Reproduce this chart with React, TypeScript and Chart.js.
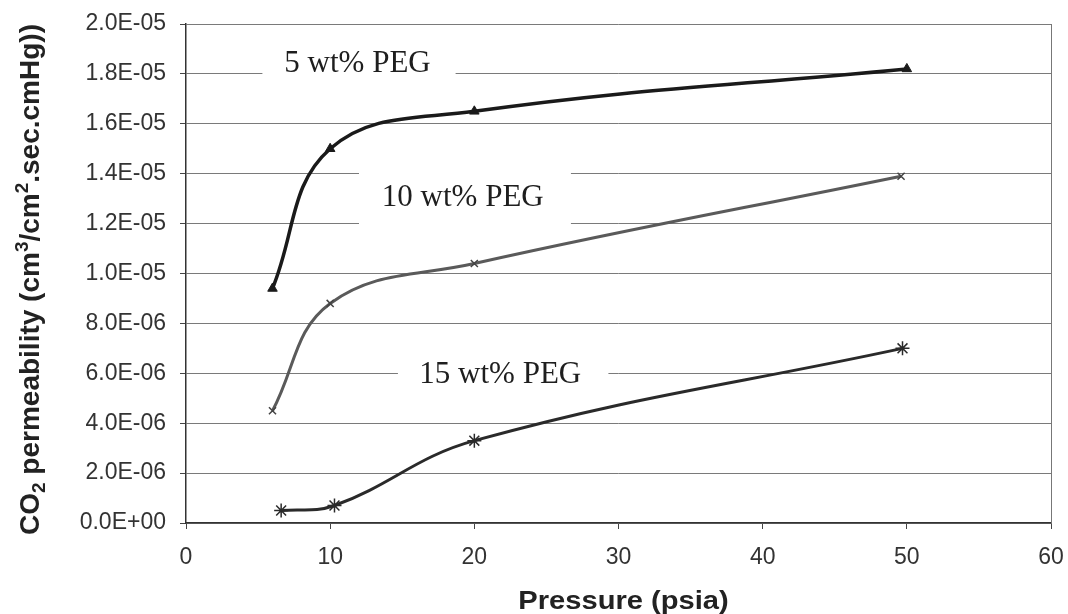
import React, { useEffect, useRef } from "react";
import { Chart, registerables } from "chart.js";

Chart.register(...registerables);

// ---- data ----
const peg5X = [6, 10, 20, 50];
const peg5Y = [9.4e-6, 1.5e-5, 1.65e-5, 1.82e-5];
const peg10X = [6, 10, 20, 49.6];
const peg10Y = [4.5e-6, 8.8e-6, 1.04e-5, 1.39e-5];
const peg15X = [6.6, 10.3, 20, 49.7];
const peg15Y = [5.0e-7, 7.0e-7, 3.3e-6, 7.0e-6];

const seriesNames = ["5 wt% PEG", "10 wt% PEG", "15 wt% PEG"];
const xTickValues = [0, 10, 20, 30, 40, 50, 60];
const yTickLabels = [
  "0.0E+00", "2.0E-06", "4.0E-06", "6.0E-06", "8.0E-06", "1.0E-05",
  "1.2E-05", "1.4E-05", "1.6E-05", "1.8E-05", "2.0E-05",
];
const xTitle = "Pressure (psia)";
const yTitleParts: [string, string][] = [
  ["CO", ""], ["2", "sub"], [" permeability (cm", ""], ["3", "sup"],
  ["/cm", ""], ["2", "sup"], [".sec.cmHg))", ""],
];

// in-plot labels: text centre (data units) and white box extent (data units)
const labelCenterX = [11.9, 19.2, 21.8];
const labelCenterY = [1.84e-5, 1.305e-5, 5.94e-6];
const labelBoxX = [[5.3, 18.7], [12.0, 26.7], [14.7, 29.3]];
const labelBoxY = [[1.77e-5, 1.9e-5], [1.17e-5, 1.44e-5], [5.45e-6, 6.5e-6]];

const SANS = "'Liberation Sans', Arial, sans-serif";
const SERIF = "'Liberation Serif', 'Times New Roman', serif";

const toPts = (xs: number[], ys: number[]) => xs.map((x, i) => ({ x, y: ys[i] }));

const annotationPlugin = {
  id: "pegLabels",
  beforeDatasetsDraw(chart: any) {
    const { ctx, scales } = chart;
    const xs = scales.x, ys = scales.y;
    ctx.save();
    seriesNames.forEach((name, i) => {
      const x1 = xs.getPixelForValue(labelBoxX[i][0]);
      const x2 = xs.getPixelForValue(labelBoxX[i][1]);
      const y1 = ys.getPixelForValue(labelBoxY[i][1]);
      const y2 = ys.getPixelForValue(labelBoxY[i][0]);
      ctx.fillStyle = "#ffffff";
      ctx.fillRect(x1, y1, x2 - x1, y2 - y1);
      ctx.fillStyle = "#1e1e1e";
      ctx.font = `31px ${SERIF}`;
      ctx.textAlign = "center";
      ctx.textBaseline = "middle";
      ctx.fillText(name, xs.getPixelForValue(labelCenterX[i]), ys.getPixelForValue(labelCenterY[i]));
    });
    ctx.restore();
  },
  afterDraw(chart: any) {
    const { ctx, chartArea } = chart;
    ctx.save();
    // right frame line
    ctx.strokeStyle = "#777";
    ctx.lineWidth = 1;
    ctx.beginPath();
    ctx.moveTo(chartArea.right + 0.5, chartArea.top);
    ctx.lineTo(chartArea.right + 0.5, chartArea.bottom);
    ctx.stroke();

    // x title
    ctx.fillStyle = "#222";
    ctx.font = `bold 26px ${SANS}`;
    ctx.textAlign = "center";
    ctx.textBaseline = "alphabetic";
    ctx.save();
    ctx.translate((chartArea.left + chartArea.right) / 2 + 5, 609);
    ctx.scale(1.12, 1);
    ctx.fillText(xTitle, 0, 0);
    ctx.restore();

    // y title with sub/superscripts
    const base = 28;
    const small = 19;
    ctx.save();
    ctx.translate(39, (chartArea.top + chartArea.bottom) / 2 + 6);
    ctx.rotate(-Math.PI / 2);
    ctx.textAlign = "left";
    let total = 0;
    const widths = yTitleParts.map(([t, k]) => {
      ctx.font = `bold ${k ? small : base}px ${SANS}`;
      const w = ctx.measureText(t).width;
      total += w;
      return w;
    });
    let cx = -total / 2;
    yTitleParts.forEach(([t, k], i) => {
      ctx.font = `bold ${k ? small : base}px ${SANS}`;
      const dy = k === "sub" ? 6 : k === "sup" ? -11 : 0;
      ctx.fillText(t, cx, dy);
      cx += widths[i];
    });
    ctx.restore();
    ctx.restore();
  },
};

export default function App() {
  const ref = useRef<HTMLCanvasElement | null>(null);
  useEffect(() => {
    if (!ref.current) return;
    const chart = new Chart(ref.current, {
      type: "scatter",
      data: {
        datasets: [
          {
            label: seriesNames[0],
            data: toPts(peg5X, peg5Y),
            showLine: true,
            tension: 0.4,
            borderColor: "#1a1a1a",
            borderWidth: 3.5,
            pointStyle: "triangle",
            pointRadius: 5.5,
            pointBackgroundColor: "#1a1a1a",
            pointBorderColor: "#1a1a1a",
            pointBorderWidth: 1,
          },
          {
            label: seriesNames[1],
            data: toPts(peg10X, peg10Y),
            showLine: true,
            tension: 0.4,
            borderColor: "#5a5a5a",
            borderWidth: 3,
            pointStyle: "crossRot",
            pointRadius: 5,
            pointBorderColor: "#444444",
            pointBorderWidth: 1.5,
          },
          {
            label: seriesNames[2],
            data: toPts(peg15X, peg15Y),
            showLine: true,
            tension: 0.4,
            borderColor: "#2a2a2a",
            borderWidth: 3,
            pointStyle: "star",
            pointRadius: 7,
            pointBorderColor: "#2a2a2a",
            pointBorderWidth: 1.5,
          },
        ],
      },
      options: {
        responsive: false,
        animation: false,
        layout: { padding: { left: 0, top: 24, right: 17, bottom: 0 } },
        plugins: { legend: { display: false }, tooltip: { enabled: false } },
        scales: {
          x: {
            type: "linear",
            min: 0,
            max: 60,
            afterFit: (s: any) => { s.height = 91; s.paddingLeft = 0; s.paddingRight = 0; },
            afterBuildTicks: (s: any) => { s.ticks = xTickValues.map((v) => ({ value: v })); },
            grid: { drawOnChartArea: false, drawTicks: true, tickLength: 6, tickColor: "#444" },
            border: { color: "#333", width: 1.5 },
            ticks: {
              color: "#333",
              font: { family: SANS, size: 23 },
              padding: 15,
              maxRotation: 0,
              callback: (v: any) => String(v),
            },
          },
          y: {
            type: "linear",
            min: 0,
            max: 2e-5,
            afterFit: (s: any) => { s.width = 186; s.paddingTop = 0; s.paddingBottom = 0; },
            afterBuildTicks: (s: any) => { s.ticks = yTickLabels.map((_, i) => ({ value: i * 2e-6 })); },
            grid: { color: "#7a7a7a", lineWidth: 1, drawTicks: true, tickLength: 6, tickColor: "#444" },
            border: { color: "#333", width: 1.5 },
            ticks: {
              color: "#333",
              font: { family: SANS, size: 23 },
              padding: 14,
              callback: (_v: any, i: number) => yTickLabels[i],
            },
          },
        },
      },
      plugins: [annotationPlugin],
    } as any);
    return () => chart.destroy();
  }, []);
  return (
    <div style={{ position: "absolute", left: 0, top: 0, width: 1068, height: 614, background: "#fff" }}>
      <canvas ref={ref} width={1068} height={614} style={{ display: "block" }} />
    </div>
  );
}
